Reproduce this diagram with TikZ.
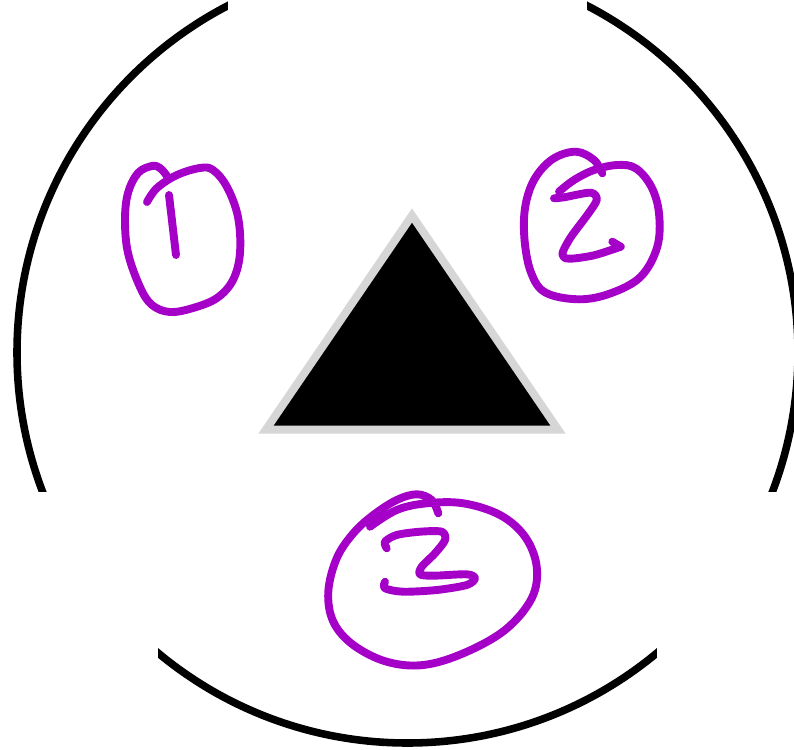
\documentclass[tikz,border=0pt]{standalone}
\usepackage{tikz}
\definecolor{inkpurple}{RGB}{165,0,200}
\definecolor{rimgray}{RGB}{214,214,214}

\begin{document}
\begin{tikzpicture}[
  x=0.02cm, y=-0.02cm,
  rim/.style = {line width=4.3pt, black},
  cutout/.style = {fill=white, draw=none},
  marker/.style = {draw=rimgray, fill=black, line width=4.55pt, line join=miter},
  ink/.style = {line width=4.5pt, inkpurple, line cap=round, line join=round}
]
  \useasboundingbox (0,0) rectangle (794,750);
  \clip (0,0) rectangle (794,750);

  % outer ring, with its three gaps
  \coordinate (centre) at (407.5,352.5);
  \draw[rim] (centre) circle[radius=390.5];
  \fill[cutout] (228,-60) rectangle (587,40);
  \fill[cutout] (-60,491.5) rectangle (158,800);
  \fill[cutout] (657,491.5) rectangle (850,800);

  % triangle in the middle
  \coordinate (apex)  at (412,215.5);
  \coordinate (baseL) at (266,429.5);
  \coordinate (baseR) at (558,429.5);
  \filldraw[marker] (apex) -- (baseL) -- (baseR) -- cycle;

  % hand-drawn mark 1
  \draw[ink] plot[smooth, tension=0.6] coordinates {(147,202) (157,188) (177,175) (200,168) (213,170) (227,187) (238,217) (240,253) (233,280) (217,298) (193,308) (170,312) (152,305) (140,287) (128,253) (125,220) (128,193) (138,173) (152,166) (160,168) (167,176)};
  \draw[ink] plot[smooth] coordinates {(169,195) (172.5,225) (176,255)};

  % hand-drawn mark 2
  \draw[ink] plot[smooth, tension=0.6] coordinates {(602.3,173.3) (594,160) (575.7,151.7) (552.3,159.3) (534,180) (525,208.3) (524.7,241.7) (531.3,273.3) (545.7,292.7) (579,299.3) (610.7,293.3) (640.7,276.7) (657.3,246.7) (659,213.3) (651.3,186.7) (635.7,168.3) (617.3,165) (594,170) (574,180) (559,191.7)};
  \draw[ink] plot[smooth, tension=0.5] coordinates {(554,198.3) (564,197.3) (590.7,192.7) (596.7,200) (587.3,215) (570.7,237.3) (562.3,254) (569,258.7) (594,255.3) (620.7,246.7)};
  \draw[ink] (612.3,241.7) -- (620.7,246.7);

  % hand-drawn mark 3
  \draw[ink] plot[smooth, tension=0.6] coordinates {(438.3,513.3) (431.7,500) (416.7,494.3) (396.7,500) (373.3,515) (353.3,533.3) (336.7,558.3) (328.3,591.7) (333.3,621.7) (353.3,645) (386.7,661.7) (423.3,665) (463.3,653.3) (505,630) (531.7,598.3) (536.7,566.7) (525,536.7) (500,515) (463.3,503.3) (426.7,503.3) (396.7,510) (370,526.7)};
  \draw[ink] plot[smooth, tension=0.5] coordinates {(386.7,548.3) (385,541.7) (396.7,535) (420,531.7) (441.7,531.7) (445,540) (435,553.3) (421.7,566.7) (420,574.3) (433.3,575.7) (466.7,574.3) (475,578.3) (466.7,585) (436.7,590) (403.3,591.7) (385,588.3) (385,581.7)};
\end{tikzpicture}
\end{document}
